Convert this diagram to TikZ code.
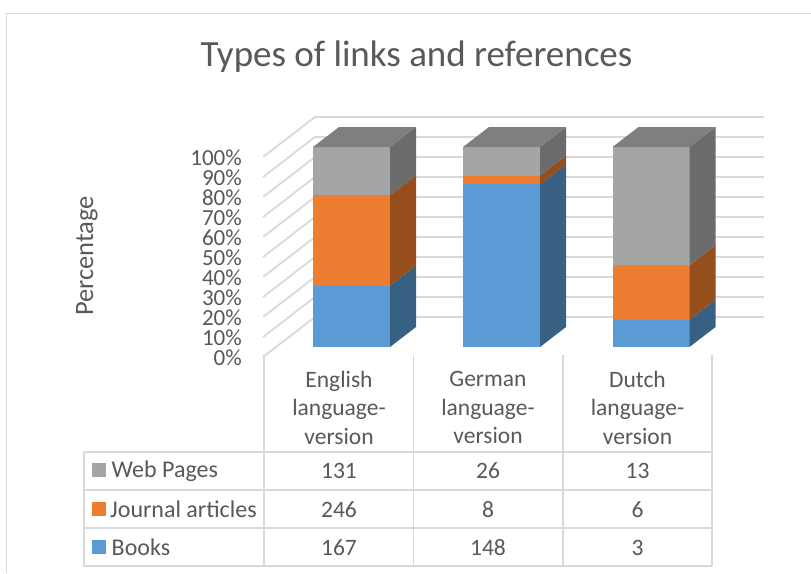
\documentclass[tikz,border=0pt]{standalone}
\usepackage{fontspec}
\setmainfont{Carlito}
\definecolor{txt}{HTML}{595959}
\definecolor{gridc}{HTML}{D9D9D9}
\definecolor{bluef}{HTML}{5B9BD5}
\definecolor{blues}{HTML}{386083}
\definecolor{orangef}{HTML}{ED7D31}
\definecolor{oranges}{HTML}{964E1D}
\definecolor{grayf}{HTML}{A5A5A5}
\definecolor{grays}{HTML}{6B6B6B}
\definecolor{grayt}{HTML}{7F7F7F}
\newcommand{\barseg}[5]{%
  \fill[#4] (#1,#2) rectangle (#1+77,#3);
  \fill[#5] (#1+77,#2) -- (#1+77,#3) -- (#1+103,#3-20) -- (#1+103,#2-20) -- cycle;}
\newcommand{\bartop}[3]{%
  \fill[#3] (#1,#2) -- (#1+77,#2) -- (#1+103,#2-20) -- (#1+26,#2-20) -- cycle;}
\begin{document}
\begin{tikzpicture}[x=1pt,y=-1pt,
  gridline/.style={draw=gridc,line width=1.8pt},
  tabline/.style={draw=gridc,line width=1.6pt},
  lbl/.style={text=txt,font=\fontsize{23.5}{28.5}\selectfont,inner sep=0pt},
  leg/.style={lbl,font=\fontsize{24}{28.5}\selectfont,anchor=west},
  tick/.style={lbl,font=\fontsize{23}{20}\selectfont,anchor=east},
  keybox/.style={minimum width=14pt,minimum height=14pt,inner sep=0pt}]
\useasboundingbox (0,0) rectangle (811,573);
\fill[white] (0,0) rectangle (811,573);
% outer frame
\draw[gridc,line width=1pt] (6,573) -- (6,13) -- (811,13);
% title
\node[text=txt,font=\fontsize{37}{44}\selectfont,inner sep=0pt] (title) at (416.5,57) {Types of links and references};
% axis title
\node[lbl,rotate=90,font=\fontsize{26.5}{30}\selectfont] (ytitle) at (87,256) {Percentage};
% grid
\foreach \i in {0,...,10}{
  \pgfmathsetmacro{\yf}{357-20*\i}
  \draw[gridline] (263,\yf) -- (315,\yf-40) -- (764,\yf-40);
  \pgfmathtruncatemacro{\pc}{10*\i}
  \node[tick] (yl\i) at (242,\yf+1) {\pc\%};
}
% bars: English
\barseg{313}{347}{285.6}{bluef}{blues}
\barseg{313}{285.6}{195.2}{orangef}{oranges}
\barseg{313}{195.2}{147}{grayf}{grays}
\bartop{313}{147}{grayt}
% German
\barseg{463}{347}{184.4}{bluef}{blues}
\barseg{463}{184.4}{175.6}{orangef}{oranges}
\barseg{463}{175.6}{147}{grayf}{grays}
\bartop{463}{147}{grayt}
% Dutch
\barseg{612.5}{347}{319.7}{bluef}{blues}
\barseg{612.5}{319.7}{265.2}{orangef}{oranges}
\barseg{612.5}{265.2}{147}{grayf}{grays}
\bartop{612.5}{147}{grayt}
% table lines
\foreach \y in {452,490,528,566}{\draw[tabline] (84,\y) -- (712,\y);}
\draw[tabline] (84,452) -- (84,566);
\foreach \x in {264,413.5,563,712}{\draw[tabline] (\x,355) -- (\x,566);}
% category labels
\node[lbl,align=center] (cEn) at (339,407.5) {English\\language-\\version};
\node[lbl,align=center] (cDe) at (488,407.5) {German\\language-\\version};
\node[lbl,align=center] (cNl) at (637.5,407.5) {Dutch\\language-\\version};
% legend keys
\node[keybox,fill=grayf] (kW) at (99,470) {};
\node[keybox,fill=orangef] (kJ) at (99,508.5) {};
\node[keybox,fill=bluef] (kB) at (99,546.5) {};
\node[leg] (tW) at (111.5,471) {Web Pages};
\node[leg] (tJ) at (110,509.5) {Journal articles};
\node[leg] (tB) at (111.5,547.5) {Books};
% values
\node[lbl] (v11) at (339,471) {131};
\node[lbl] (v12) at (488,471) {26};
\node[lbl] (v13) at (637.5,471) {13};
\node[lbl] (v21) at (339,509.5) {246};
\node[lbl] (v22) at (488,509.5) {8};
\node[lbl] (v23) at (637.5,509.5) {6};
\node[lbl] (v31) at (339,547.5) {167};
\node[lbl] (v32) at (488,547.5) {148};
\node[lbl] (v33) at (637.5,547.5) {3};
\end{tikzpicture}
\end{document}
